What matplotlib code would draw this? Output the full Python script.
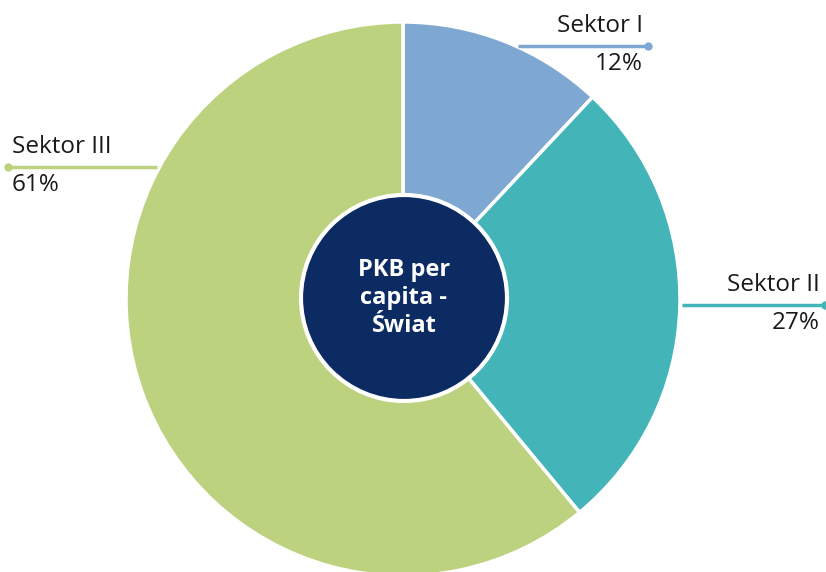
import matplotlib
matplotlib.use("Agg")
import matplotlib.pyplot as plt
from matplotlib.patches import Circle

plt.rcParams['font.family'] = ['Open Sans', 'DejaVu Sans']

labels = ["Sektor I", "Sektor II", "Sektor III"]
shares = [12, 27, 61]
colors = ["#7ea8d2", "#43b5b9", "#bdd27e"]
center_text = "PKB per\ncapita -\nŚwiat"

W, H = 826, 572
fig = plt.figure(figsize=(W / 100, H / 100), dpi=100)
ax = fig.add_axes([0, 0, 1, 1])

cx, cy, r = 403, H - 299, 277
ax.pie(shares, colors=colors, startangle=90, counterclock=False,
       center=(cx, cy), radius=r,
       wedgeprops=dict(edgecolor="white", linewidth=2.5))
ax.add_patch(Circle((cx + 1, cy + 1), 103, facecolor="#0b2b62",
                    edgecolor="white", linewidth=3, zorder=5))
ax.text(cx + 1, cy + 1, center_text, color="white", fontsize=17,
        fontweight="bold", ha="center", va="center", linespacing=1.25, zorder=6)

# label layout: (line x0, line x1, line y, dot x, text x, align)
layout = [
    (518, 648, 46, 648, 643, "right"),
    (682, 826, 305, 825, 820, "right"),
    (8, 157, 167, 8, 12, "left"),
]
for lab, val, col, (x0, x1, y, dx, tx, ha) in zip(labels, shares, colors, layout):
    ax.plot([x0, x1], [H - y, H - y], color=col, lw=2.5, solid_capstyle="butt")
    ax.plot(dx, H - y, "o", color=col, ms=5)
    ax.text(tx, H - y + 8, lab, ha=ha, va="bottom", fontsize=17.5, color="#1a1a1a")
    ax.text(tx, H - y - 6, f"{val}%", ha=ha, va="top", fontsize=17.5, color="#1a1a1a")

ax.set_xlim(0, W)
ax.set_ylim(0, H)
ax.set_aspect("auto")
ax.axis("off")
fig.savefig("out.png", dpi=100, facecolor="white")
